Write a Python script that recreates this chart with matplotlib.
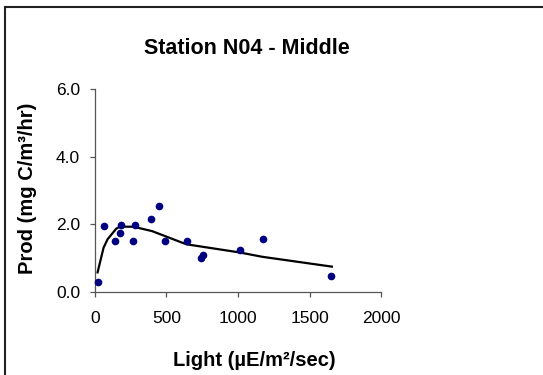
import matplotlib
matplotlib.use('Agg')
import matplotlib.pyplot as plt
from matplotlib.patches import Rectangle

plt.rcParams['font.family'] = ['Liberation Sans', 'DejaVu Sans']

# measured light vs production
light = [20, 62, 139, 178, 182, 265, 284, 393, 451, 494, 642, 745, 755, 1011, 1171, 1652]
prod = [0.30, 1.94, 1.51, 1.73, 1.99, 1.52, 1.99, 2.17, 2.54, 1.50, 1.51, 1.00, 1.09, 1.23, 1.56, 0.47]

# fitted curve
fit_light = [20, 62, 90, 150, 175, 270, 400, 640, 1010, 1170, 1655]
fit_prod = [0.58, 1.31, 1.56, 1.87, 1.93, 1.93, 1.80, 1.41, 1.17, 1.04, 0.75]

xticks = [0, 500, 1000, 1500, 2000]
yticks = [0.0, 2.0, 4.0, 6.0]

fig = plt.figure(figsize=(5.43, 3.75), dpi=100)
fig.patches.append(Rectangle((5 / 543, -0.1), 1.2, (375 - 6.5) / 375 + 0.1,
                             transform=fig.transFigure, fill=False,
                             edgecolor='#222222', linewidth=1.5))

ax = fig.add_axes([94.7 / 543, 83 / 375, 286.6 / 543, 203 / 375])
ax.plot(fit_light, fit_prod, color='black', lw=1.6, zorder=2)
ax.plot(light, prod, 'o', color='#000080', markersize=4.5, zorder=3, clip_on=False)

ax.set_xlim(0, 2000)
ax.set_ylim(0, 6)
ax.set_xticks(xticks)
ax.set_yticks(yticks)
ax.set_yticklabels(['%.1f' % v for v in yticks])
for s in ['top', 'right']:
    ax.spines[s].set_visible(False)
for s in ['left', 'bottom']:
    ax.spines[s].set_color('#555555')
    ax.spines[s].set_linewidth(0.9)
ax.tick_params(axis='both', direction='out', length=3.5, width=0.9, color='#555555',
               labelsize=12.5, pad=7)
ax.tick_params(axis='x', pad=10)

fig.text(247 / 543, 1 - 49 / 375, 'Station N04 - Middle', ha='center', va='center',
         fontsize=15.5, fontweight='bold')
fig.text(254 / 543, 1 - 360 / 375, 'Light (µE/m²/sec)',
         ha='center', va='center', fontsize=14.5, fontweight='bold')
fig.text(28 / 543, 1 - 188 / 375, 'Prod (mg C/m³/hr)', ha='center',
         va='center', rotation=90, fontsize=14.5, fontweight='bold')

fig.savefig('out.png', dpi=100)
